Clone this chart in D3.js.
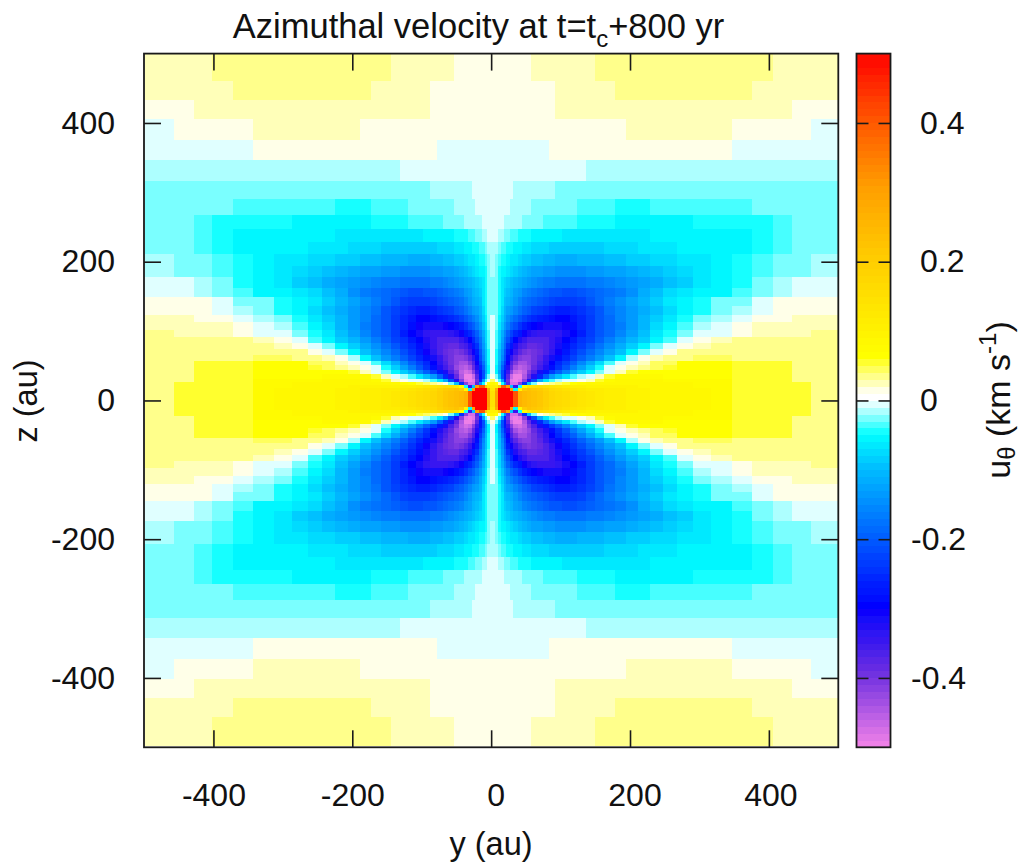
<!DOCTYPE html>
<html>
<head>
<meta charset="utf-8">
<script src="https://cdn.jsdelivr.net/npm/d3@7"></script>
<style>
  html, body { margin: 0; background: #fff; }
  svg text { font-family: "Liberation Sans", Arial, sans-serif; fill: #111; }
</style>
</head>
<body>
<div id="chart"></div>
<script>
// cell edges in au, from the centre outwards (same for y and z, one quadrant)
var gridEdges = [0,4,8,12,16,20,25,30,36,42,49,56,64,72,81,90,100,111,122,134,147,161,176,192,209,227,246,266,289,315,345,374,404,431,459,500];

var uTheta = [
[1,1,1,1,1,1,1,1,1,1,1,2,2,2,2,2,2,2,2,2,3,3,3,3,3,3,3,3,3,3,3,3,2,2,2],
[1,1,1,1,1,1,1,1,1,1,1,1,1,1,1,2,2,2,2,2,2,2,3,3,3,3,3,3,3,3,3,2,2,2,2],
[1,1,1,1,1,1,1,1,1,1,1,1,1,1,1,2,2,2,2,2,2,2,2,2,2,2,2,2,2,2,2,2,2,1,1],
[1,1,1,1,1,1,1,1,1,1,1,1,1,1,1,1,1,1,1,1,1,1,1,2,2,2,2,2,2,2,1,1,1,1,-1],
[-1,-1,-1,-1,-1,-1,-1,-1,-1,-1,-1,-1,-1,-1,1,1,1,1,1,1,1,1,1,1,1,1,1,1,1,1,-1,-1,-1,-1,-1],
[-1,-1,-1,-1,-1,-1,-1,-1,-1,-1,-1,-1,-1,-1,-1,-1,-1,-1,-1,-2,-2,-2,-2,-2,-2,-2,-2,-2,-2,-2,-2,-2,-2,-2,-2],
[-1,-1,-1,-1,-1,-1,-1,-2,-2,-2,-2,-2,-2,-2,-2,-3,-3,-3,-3,-3,-3,-3,-3,-3,-3,-3,-3,-3,-3,-3,-3,-3,-3,-3,-3],
[-1,-1,-1,-1,-1,-1,-2,-2,-2,-2,-2,-3,-3,-3,-3,-3,-3,-3,-4,-4,-4,-4,-5,-5,-5,-4,-4,-4,-4,-4,-4,-3,-3,-3,-3],
[-1,-1,-1,-1,-2,-2,-2,-2,-2,-3,-3,-3,-3,-4,-4,-4,-4,-4,-5,-5,-5,-5,-6,-6,-6,-6,-6,-6,-5,-5,-5,-5,-4,-3,-3],
[-1,-1,-2,-2,-3,-3,-4,-4,-5,-5,-5,-6,-6,-6,-6,-6,-7,-7,-7,-7,-7,-7,-7,-7,-7,-6,-6,-6,-6,-6,-6,-5,-4,-3,-3],
[-2,-2,-3,-4,-4,-5,-5,-6,-6,-7,-7,-8,-8,-8,-9,-9,-9,-9,-9,-9,-9,-8,-8,-8,-7,-7,-7,-6,-6,-6,-6,-5,-4,-3,-3],
[-2,-3,-4,-5,-5,-6,-7,-7,-8,-9,-9,-10,-10,-11,-11,-12,-12,-12,-11,-11,-11,-10,-10,-9,-9,-8,-8,-7,-7,-6,-5,-4,-3,-3,-2],
[-2,-3,-5,-6,-6,-7,-8,-9,-10,-11,-12,-13,-13,-14,-14,-15,-15,-15,-15,-14,-14,-13,-13,-12,-11,-10,-9,-8,-7,-6,-5,-4,-3,-3,-2],
[-3,-3,-5,-7,-8,-9,-10,-11,-12,-13,-14,-15,-16,-17,-17,-18,-18,-18,-18,-17,-17,-16,-15,-14,-13,-12,-10,-9,-7,-6,-5,-3,-2,-1,-1],
[-3,-3,-5,-7,-9,-10,-11,-13,-14,-16,-17,-18,-19,-20,-21,-21,-22,-22,-21,-20,-19,-18,-17,-15,-12,-10,-8,-7,-6,-6,-4,-3,-2,-1,-1],
[-3,-3,-5,-7,-10,-11,-12,-14,-16,-18,-19,-20,-21,-22,-23,-24,-24,-24,-23,-21,-19,-17,-15,-13,-11,-9,-7,-6,-5,-3,-3,-1,1,1,1],
[-3,-3,-5,-8,-11,-13,-14,-16,-18,-20,-21,-23,-24,-25,-26,-27,-27,-26,-25,-23,-21,-18,-16,-14,-12,-10,-8,-6,-5,-3,-2,-1,1,1,1],
[-1,-3,-6,-9,-12,-15,-17,-19,-21,-23,-25,-26,-27,-28,-29,-30,-30,-28,-26,-24,-21,-19,-16,-14,-11,-9,-7,-5,-3,-2,-1,1,1,2,2],
[-1,-3,-7,-10,-14,-17,-20,-22,-25,-27,-29,-30,-31,-32,-32,-32,-31,-29,-26,-24,-21,-19,-17,-14,-11,-8,-6,-4,-2,-1,1,2,2,2,2],
[-1,-4,-8,-12,-16,-20,-23,-26,-28,-31,-33,-34,-35,-35,-35,-34,-32,-30,-27,-24,-21,-19,-16,-13,-10,-7,-5,-3,-1,-1,1,2,2,2,3],
[-1,-4,-8,-13,-18,-22,-26,-30,-33,-35,-37,-37,-37,-37,-35,-33,-30,-28,-25,-23,-20,-17,-14,-11,-9,-6,-4,-1,1,2,3,3,3,3,3],
[-1,-4,-9,-14,-19,-25,-28,-33,-36,-37,-39,-39,-38,-37,-35,-32,-29,-26,-24,-21,-18,-15,-12,-9,-6,-3,-1,1,2,3,3,3,3,3,3],
[-1,-5,-10,-15,-21,-27,-31,-35,-38,-40,-41,-40,-39,-37,-34,-31,-28,-25,-22,-19,-16,-13,-10,-6,-3,-1,1,3,3,3,3,3,3,3,3],
[-1,-5,-10,-16,-22,-29,-34,-38,-41,-42,-42,-40,-38,-35,-32,-29,-26,-23,-20,-17,-14,-10,-6,-2,1,2,3,3,4,4,3,3,3,3,3],
[-1,-5,-11,-18,-24,-31,-37,-41,-44,-44,-42,-40,-37,-34,-30,-26,-23,-20,-16,-12,-8,-4,-1,1,2,4,4,6,6,6,5,5,5,3,3],
[-1,-6,-12,-20,-26,-33,-39,-44,-46,-45,-43,-39,-36,-33,-29,-25,-21,-17,-13,-9,-5,-1,1,2,3,4,5,6,6,6,5,5,5,3,3],
[-1,-6,-13,-22,-28,-35,-42,-47,-48,-46,-41,-37,-32,-28,-24,-20,-16,-12,-9,-6,-3,-1,2,5,6,6,6,6,6,6,5,5,5,3,3],
[1,-3,-10,-22,-28,-38,-47,-50,-50,-45,-39,-33,-26,-20,-14,-10,-7,-4,-2,-1,2,5,7,7,7,7,6,6,6,6,5,5,5,3,3],
[4,-1,-4,-14,-26,-40,-49,-50,-49,-42,-33,-22,-12,-7,-4,-2,-1,-1,1,2,5,7,8,8,8,8,7,7,7,7,5,5,5,3,3],
[8,6,2,-5,-15,-38,-48,-48,-42,-25,-10,-3,1,2,3,4,5,6,7,8,8,8,8,8,8,8,8,8,7,7,5,5,5,5,3],
[10,10,20,40,40,30,-10,-35,-5,6,12,14,15,14,13,12,11,10,10,9,9,9,9,9,8,8,8,8,7,7,5,5,5,5,3],
[12,28,50,50,50,50,30,-6,8,20,22,21,20,18,16,15,14,13,12,11,11,10,10,9,9,8,8,8,8,7,5,5,5,5,3],
[14,30,50,50,50,50,50,40,26,24,23,22,21,19,17,16,15,14,13,12,11,10,10,9,9,8,8,8,8,7,5,5,5,5,3],
[14,30,50,50,50,50,50,40,26,24,23,22,21,19,17,16,15,14,13,12,11,10,10,9,9,8,8,8,8,7,5,5,5,5,3],
[14,30,50,50,50,50,50,40,26,24,23,22,21,19,17,16,15,14,13,12,11,10,10,9,9,8,8,8,8,7,5,5,5,5,3]
];

var axisTicks = [-400,-200,0,200,400];
var barTicks = [-0.4,-0.2,0,0.2,0.4];

var paletteStops = [-0.5,-0.4,-0.3,-0.2,-0.1,-0.054,-0.004,0.005,0.06,0.2,0.3,0.4,0.5];
var paletteColors = ["#ee80e8","#7030e0","#0000ff","#0060ff","#00c0ff","#00ffff","#ffffff","#ffffff","#ffff00","#ffcc00","#ffa000","#ff5500","#ff0000"];

var width = 1020, height = 863;
var plotLeft = 144, plotRight = 838.3, plotTop = 53.6, plotBottom = 747.3;
var barLeft = 856.5, barRight = 890.5;
var cellShift = 2; // the cells sit a little off the axis centre, as in the original

var color = d3.scaleLinear().domain(paletteStops).range(paletteColors);

var x = d3.scaleLinear().domain([-500,500]).range([plotLeft,plotRight]);
var y = d3.scaleLinear().domain([-500,500]).range([plotBottom,plotTop]);
var barY = d3.scaleLinear().domain([-0.5,0.5]).range([plotBottom,plotTop]);

var svg = d3.select("#chart").append("svg")
  .attr("width",width).attr("height",height)
  .style("display","block");

var defs = svg.append("defs");
defs.append("clipPath").attr("id","plotClip").append("rect")
  .attr("x",plotLeft).attr("y",plotTop)
  .attr("width",plotRight-plotLeft).attr("height",plotBottom-plotTop);
defs.append("filter").attr("id","soft")
  .attr("filterUnits","userSpaceOnUse")
  .attr("x",0).attr("y",0).attr("width",width).attr("height",height)
  .append("feGaussianBlur").attr("stdDeviation",0.7);

// one cell per quadrant, the lower and left quadrants mirror the upper right one
var rows = uTheta.slice().reverse();
var cells = [];
rows.forEach(function(row,i) {
  row.forEach(function(v,j) {
    [-1,1].forEach(function(sy) {
      [-1,1].forEach(function(sz) {
        cells.push({
          y0: sy*gridEdges[j]+cellShift, y1: sy*gridEdges[j+1]+cellShift,
          z0: sz*gridEdges[i]+cellShift, z1: sz*gridEdges[i+1]+cellShift,
          value: v*0.01
        });
      });
    });
  });
});

var rectOf = function(d) {
  return {
    x: Math.min(x(d.y0),x(d.y1)), w: Math.abs(x(d.y1)-x(d.y0)),
    y: Math.min(y(d.z0),y(d.z1)), h: Math.abs(y(d.z1)-y(d.z0))
  };
};

svg.append("g").attr("clip-path","url(#plotClip)")
  .append("g").attr("filter","url(#soft)")
  .selectAll("rect").data(cells).join("rect")
  .attr("x",function(d) { return rectOf(d).x; })
  .attr("y",function(d) { return rectOf(d).y; })
  .attr("width",function(d) { return rectOf(d).w+0.3; })
  .attr("height",function(d) { return rectOf(d).h+0.3; })
  .attr("fill",function(d) { return color(d.value); })
  .attr("shape-rendering","crispEdges");

// colour bar, one band per 0.01 km/s
var barLevels = d3.range(-50,50);
svg.append("g").attr("filter","url(#soft)")
  .selectAll("rect").data(barLevels).join("rect")
  .attr("x",barLeft).attr("width",barRight-barLeft)
  .attr("y",function(d) { return barY((d+1)*0.01); })
  .attr("height",function(d) { return barY(d*0.01)-barY((d+1)*0.01)+0.3; })
  .attr("fill",function(d) { return color(d*0.01); })
  .attr("shape-rendering","crispEdges");

function styleAxis(g,size) {
  g.select(".domain").remove();
  g.selectAll("line").attr("stroke","#1a1a1a").attr("stroke-width",1.6);
  g.selectAll("text").attr("font-size",size).style("fill","#111");
}

var tickLen = 17;
var labelSize = 32;
var fmt = function(d) { return d3.format("d")(d).replace("\u2212","-"); };

svg.append("g").attr("transform","translate(0,"+plotBottom+")")
  .call(d3.axisBottom(x).tickValues(axisTicks).tickSizeInner(-tickLen).tickSizeOuter(0).tickPadding(36).tickFormat(fmt))
  .call(styleAxis,labelSize)
  .selectAll("text").attr("dx",function(d) { return d===0 || d===200 ? 4.5 : (d===400 ? 1.5 : 0); });
svg.append("g").attr("transform","translate(0,"+plotTop+")")
  .call(d3.axisTop(x).tickValues(axisTicks).tickSizeInner(-tickLen).tickSizeOuter(0).tickFormat(""))
  .call(styleAxis,labelSize);
svg.append("g").attr("transform","translate("+plotLeft+",0)")
  .call(d3.axisLeft(y).tickValues(axisTicks).tickSizeInner(-tickLen).tickSizeOuter(0).tickPadding(29).tickFormat(fmt))
  .call(styleAxis,labelSize);
svg.append("g").attr("transform","translate("+plotRight+",0)")
  .call(d3.axisRight(y).tickValues(axisTicks).tickSizeInner(-tickLen).tickSizeOuter(0).tickFormat(""))
  .call(styleAxis,labelSize);

// bar ticks are two dashes, one from each side
var barFmt = function(d) { return d===0 ? "0" : d3.format(".1f")(d).replace("\u2212","-"); };
svg.append("g").attr("transform","translate("+barLeft+",0)")
  .call(d3.axisLeft(barY).tickValues(barTicks).tickSizeInner(-12).tickSizeOuter(0).tickFormat(""))
  .call(styleAxis,labelSize);
svg.append("g").attr("transform","translate("+barRight+",0)")
  .call(d3.axisRight(barY).tickValues(barTicks).tickSizeInner(-12).tickSizeOuter(0).tickPadding(30).tickFormat(barFmt))
  .call(styleAxis,labelSize)
  .selectAll("text").attr("x",function(d) { return d<0 ? 20.5 : 29.5; });

// frames
svg.append("rect").attr("x",plotLeft).attr("y",plotTop)
  .attr("width",plotRight-plotLeft).attr("height",plotBottom-plotTop)
  .attr("fill","none").attr("stroke","#1a1a1a").attr("stroke-width",1.8);
svg.append("rect").attr("x",barLeft).attr("y",plotTop)
  .attr("width",barRight-barLeft).attr("height",plotBottom-plotTop)
  .attr("fill","none").attr("stroke","#1a1a1a").attr("stroke-width",1.8);

// title and labels
var title = svg.append("text").attr("x",478.5).attr("y",37.5)
  .attr("text-anchor","middle").attr("font-size",34.5);
title.append("tspan").text("Azimuthal velocity at t=t");
title.append("tspan").attr("font-size",24).attr("dy",9).text("c");
title.append("tspan").attr("dy",-9).text("+800 yr");

svg.append("text").attr("x",491).attr("y",855)
  .attr("text-anchor","middle").attr("font-size",32.5).text("y (au)");

svg.append("text").attr("transform","translate(37,401) rotate(-90)")
  .attr("text-anchor","middle").attr("font-size",32.5).text("z (au)");

var barLabel = svg.append("text").attr("transform","translate(1010,400) rotate(-90)")
  .attr("text-anchor","middle").attr("font-size",34);
barLabel.append("tspan").text("u");
barLabel.append("tspan").attr("font-size",24).attr("dy",5).text("\u03b8");
barLabel.append("tspan").attr("dy",-5).text(" (km s");
barLabel.append("tspan").attr("font-size",24).attr("dy",-14).text("-1");
barLabel.append("tspan").attr("dy",14).text(")");
</script>
</body>
</html>
